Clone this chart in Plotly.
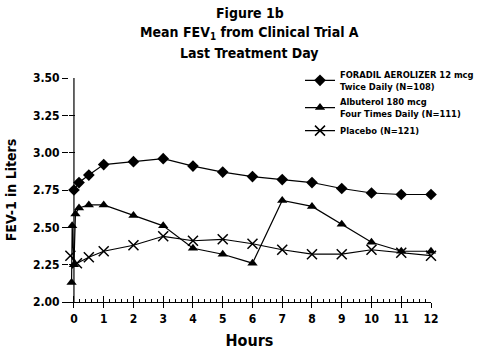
import plotly.graph_objects as go

# Data
foradil_x = [0, 0.17, 0.5, 1, 2, 3, 4, 5, 6, 7, 8, 9, 10, 11, 12]
foradil_y = [2.75, 2.80, 2.85, 2.92, 2.94, 2.96, 2.91, 2.87, 2.84, 2.82, 2.80, 2.76, 2.73, 2.72, 2.72]

albuterol_x = [-0.08, -0.06, 0.0, 0.05, 0.17, 0.5, 1, 2, 3, 4, 5, 6, 7, 8, 9, 10, 11, 12]
albuterol_y = [2.13, 2.51, 2.25, 2.59, 2.63, 2.65, 2.65, 2.58, 2.51, 2.36, 2.32, 2.26, 2.68, 2.64, 2.52, 2.40, 2.34, 2.34]

placebo_x = [-0.12, 0.1, 0.5, 1, 2, 3, 4, 5, 6, 7, 8, 9, 10, 11, 12]
placebo_y = [2.31, 2.26, 2.30, 2.34, 2.38, 2.44, 2.41, 2.42, 2.39, 2.35, 2.32, 2.32, 2.35, 2.33, 2.31]

names = ["FORADIL AEROLIZER 12 mcg<br>Twice Daily (N=108)",
         "Albuterol 180 mcg<br>Four Times Daily (N=111)",
         "Placebo (N=121)"]

title_lines = ["Figure 1b", "Mean FEV<sub>1</sub> from Clinical Trial A", "Last Treatment Day"]

x_ticks = list(range(0, 13))
y_ticks = [2.00, 2.25, 2.50, 2.75, 3.00, 3.25, 3.50]

FONT = "DejaVu Sans Condensed, Liberation Sans Narrow, sans-serif"

fig = go.Figure()
line = dict(color="black", width=1.2)
fig.add_trace(go.Scatter(x=foradil_x, y=foradil_y, name="<b>" + names[0] + "</b>",
                         mode="lines+markers", line=line,
                         marker=dict(symbol="diamond", size=9, color="black"), cliponaxis=False))
fig.add_trace(go.Scatter(x=albuterol_x, y=albuterol_y, name="<b>" + names[1] + "</b>",
                         mode="lines+markers", line=line,
                         marker=dict(symbol="triangle-up", size=9, color="black"), cliponaxis=False))
fig.add_trace(go.Scatter(x=placebo_x, y=placebo_y, name="<b>" + names[2] + "</b>",
                         mode="lines+markers", line=line,
                         marker=dict(symbol="x-thin-open", size=10, color="black",
                                     line=dict(color="black", width=1.5)), cliponaxis=False))
# helper trace for overlay axes (tick marks on inner side)
fig.add_trace(go.Scatter(x=[None], y=[None], xaxis="x2", yaxis="y2", showlegend=False,
                         hoverinfo="skip"))

tickfont = dict(family=FONT, size=12, color="black")
fig.update_layout(
    width=480, height=353,
    margin=dict(l=68, r=49, t=78, b=51, autoexpand=False),
    paper_bgcolor="white", plot_bgcolor="white",
    font=dict(family=FONT, color="black"),
    showlegend=True,
    legend=dict(xref="container", yref="container", x=0.625, y=0.825,
                xanchor="left", yanchor="top",
                font=dict(family=FONT, size=9.3, color="black"),
                bgcolor="rgba(0,0,0,0)", tracegroupgap=8, itemwidth=30),
    xaxis=dict(range=[-0.2, 12], tickvals=x_ticks, ticktext=[f"<b>{v}</b>" for v in x_ticks],
               ticks="outside", ticklen=5, automargin=False,
               tickwidth=1.2, tickcolor="black", showline=True, linecolor="black",
               linewidth=1.2, showgrid=False, zeroline=False,
               tickfont=tickfont,
               title=dict(text="<b>Hours</b>", font=dict(family=FONT, size=16), standoff=10)),
    yaxis=dict(range=[2.0, 3.5], tickvals=y_ticks, ticktext=[f"<b>{v:.2f}</b>" for v in y_ticks],
               ticks="outside", automargin=False,
               ticklen=6, tickwidth=1.2, tickcolor="black", showline=False,
               showgrid=False, zeroline=False, anchor="free", position=0.0,
               tickfont=tickfont,
               title=dict(text="<b>FEV-1 in Liters</b>", font=dict(family=FONT, size=14), standoff=12)),
    xaxis2=dict(overlaying="x", range=[-0.2, 12], tickvals=x_ticks, ticks="inside",
                ticklen=6, tickwidth=1.2, tickcolor="black", showticklabels=False,
                showgrid=False, zeroline=False, anchor="y2", side="bottom",
                minor=dict(dtick=0.2, tick0=0, ticks="inside", ticklen=3, tickwidth=1,
                           tickcolor="black")),
    yaxis2=dict(overlaying="y", range=[2.0, 3.5], tickvals=y_ticks, ticks="inside",
                ticklen=6, tickwidth=1.2, tickcolor="black", showticklabels=False,
                showgrid=False, zeroline=False, anchor="free", position=0.0, side="left"),
)

for i, (txt, ypx) in enumerate(zip(title_lines, [13, 33, 53])):
    fig.add_annotation(text="<b>" + txt + "</b>", xref="paper", yref="paper",
                       x=0.5, y=1 + (78 - ypx) / 224, xanchor="center", yanchor="middle",
                       showarrow=False, font=dict(family=FONT, size=14, color="black"))

# y axis line at x = 0
fig.add_shape(type="line", xref="x", yref="y", x0=0, x1=0, y0=2.0, y1=3.5,
              line=dict(color="black", width=1.2))

fig.write_html("out.html")
